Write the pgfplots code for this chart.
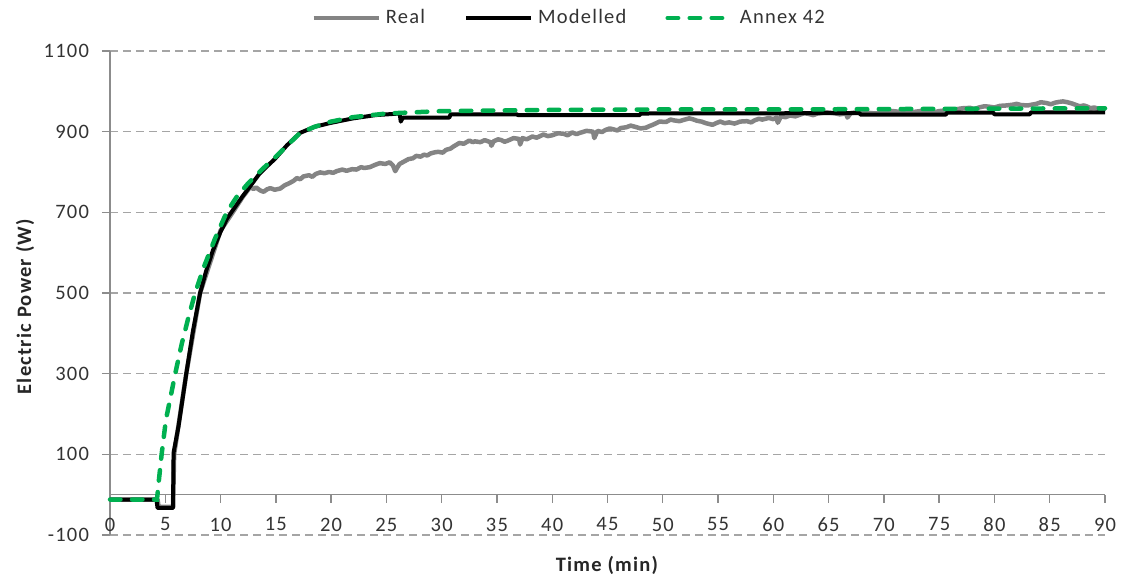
\documentclass[border=0pt]{standalone}
\usepackage{fontspec}
\setmainfont{Carlito}[LetterSpace=6]
\usepackage{pgfplots}
\pgfplotsset{compat=1.18}
\definecolor{realgray}{RGB}{132,132,132}
\definecolor{annexgreen}{RGB}{0,176,80}
\definecolor{gridgray}{RGB}{165,165,165}
\definecolor{axisgray}{RGB}{140,140,140}
\begin{document}
\begin{tikzpicture}
\fontsize{20.5}{24}\selectfont
\begin{axis}[
  scale only axis, width=995pt, height=484pt,
  xmin=0, xmax=90, ymin=-100, ymax=1100,
  axis y line=left, axis x line=middle,
  hide obscured x ticks=false, hide obscured y ticks=false,
  axis line style={axisgray, line width=1.4pt, -},
  tick align=outside, major tick length=8pt,
  tick style={axisgray, line width=1.4pt},
  xtick={0,5,...,90},
  xticklabels={0,5,10,15,20,25,30,35,40,45,50,55,60,65,70,75,80,85,90},
  ytick={-100,100,300,500,700,900,1100},
  yticklabels={-100,100,300,500,700,900,1100},
  ymajorgrids, major grid style={gridgray, line width=1.3pt, dash pattern=on 8pt off 5pt},
  ticklabel style={font=\fontsize{20.5}{24}\selectfont, text=black!80},
  xticklabel style={yshift=-8pt},
  yticklabel style={xshift=-6pt},
  xlabel={\textbf{Time (min)}},
  ylabel={\textbf{Electric Power (W)}},
  label style={font=\fontsize{20.5}{24}\selectfont, text=black!85},
  xlabel style={at={(axis description cs:0.5,0)}, anchor=center, yshift=-30pt},
  ylabel style={at={(axis description cs:-0.0854,0.473)}, anchor=center},
  legend columns=3,
  legend style={draw=none, fill=none, at={(axis description cs:0.463,1)}, anchor=center, yshift=33pt,
    font=\fontsize{20.5}{24}\selectfont, text=black!80,
    nodes={inner xsep=5pt},
    /tikz/every even column/.append style={column sep=34pt}},
  legend image code/.code={\draw[#1] (0pt,0pt) -- (65pt,0pt);},
  clip=false,
]
\addplot[realgray, line width=4.5pt, line join=round] coordinates {
(0,-12) (4.3,-12) (4.4,-30) (5.7,-30) (5.8,100) (6.9,300) (8.15,500) (10,655) (11.1,700) (12.0,738) (12.66,762)
(13.0,758) (13.2,762) (13.6,754) (13.9,751) (14.2,757) (14.5,760) (14.9,756) (15.4,759) (15.8,767) (16.2,772)
(16.6,778) (16.9,785) (17.2,782) (17.5,789) (18,792) (18.3,788) (18.6,795) (19,799) (19.4,797) (19.8,800)
(20.2,798) (20.5,802) (21.0,806) (21.4,803) (21.9,807) (22.3,806) (22.7,812) (23,810) (23.5,812) (24.0,818)
(24.4,822) (24.9,820) (25.3,824) (25.6,816) (25.8,802) (26.0,812) (26.2,820) (26.6,826) (27,832) (27.4,834)
(27.7,840) (28.1,838) (28.4,843) (28.7,841) (29,846) (29.4,849) (29.7,850) (30.1,848) (30.4,855) (30.8,858)
(31.0,862) (31.3,867) (31.6,872) (32.0,870) (32.5,878) (32.8,874) (33.0,876) (33.5,874) (33.9,879) (34.2,876)
(34.4,874) (34.5,865) (34.7,876) (35.1,881) (35.4,879) (35.7,875) (36,878) (36.5,884) (37,882) (37.1,868)
(37.3,884) (37.7,881) (38.2,888) (38.6,885) (39.2,893) (39.6,889) (40,891) (40.5,896) (41,895) (41.4,891)
(41.8,898) (42.2,894) (42.5,897) (43.1,902) (43.7,900) (43.8,884) (44.1,902) (44.5,899) (44.8,904) (45.2,908)
(45.5,906) (45.9,903) (46.2,909) (46.7,911) (47.1,915) (47.5,912) (48.0,908) (48.5,910) (48.8,914) (49.1,917)
(49.4,921) (49.7,925) (50.3,924) (50.7,930) (51,928) (51.5,926) (52,930) (52.4,933) (52.7,931) (53.1,927)
(53.5,925) (53.9,921) (54.5,917) (54.9,922) (55.2,925) (55.6,921) (56,923) (56.5,920) (57.0,925) (57.6,926)
(58.0,923) (58.3,928) (58.7,932) (59,930) (59.6,934) (60.0,931) (60.3,935) (60.4,922) (60.7,938) (61.1,936)
(61.5,940) (62.0,938) (62.4,942) (62.8,946) (63.2,944) (63.6,941) (64,945) (64.8,948) (65.5,946) (66.0,943)
(66.6,945) (66.7,935) (67,946) (67.8,949) (68.5,947) (69.2,945) (70,948) (70.8,951) (71.5,949) (72.2,947)
(73,950) (73.5,952) (74,950) (74.5,948) (75,951) (75.7,953) (76.4,955) (77.1,958) (77.8,959) (78.2,956)
(78.6,960) (79.1,963) (79.5,962) (80.0,960) (80.5,964) (81.1,965) (81.7,967) (82.0,969) (82.4,966) (83,965)
(83.4,967) (83.8,969) (84.2,973) (84.7,971) (85.1,968) (85.5,972) (85.9,974) (86.2,975) (86.6,973) (87,970)
(87.4,966) (87.7,963) (88.1,965) (88.4,962) (88.7,958) (89,960) (89.4,957) (89.8,955) (90,957)
};
\addlegendentry{Real}
\addplot[black, line width=4pt, line join=round] coordinates {
(0,-12) (4.2,-12) (4.3,-33) (5.7,-33) (5.75,104) (6.2,170) (6.9,300) (7.5,405) (8.15,500) (8.7,555) (9.3,605)
(10,652) (10.6,685) (11.1,705) (12,740) (12.66,764) (13.5,795) (14.2,814) (14.9,832) (16,866) (17.2,897)
(18.5,912) (20,922) (22,933) (24,941) (26.2,945) (26.3,925) (26.5,935) (30.7,935) (30.8,943) (36.8,943)
(36.9,941) (47.9,941) (48,945) (67.8,946) (67.9,942) (75.6,942) (75.7,947) (79.9,947) (80,943) (83.2,943)
(83.3,948) (90,948)
};
\addlegendentry{Modelled}
\addplot[annexgreen, line width=4.5pt, line cap=round, dash pattern=on 10.5pt off 11.5pt] coordinates {
(0,-12) (4.25,-12) (4.4,30) (4.67,100) (5.06,186) (5.5,245) (5.9,300) (6.5,375) (7.1,440) (7.7,500) (8.5,565)
(9.5,635) (10.55,700) (11.5,740) (12.5,772) (13.7,805) (15,838) (16,865) (17.2,897) (18.5,912) (20,925) (22,936)
(25,945) (30,951) (40,954) (50,955) (60,955) (70,956) (80,957) (90,958)
};
\addlegendentry{Annex 42}
\coordinate (bl) at (rel axis cs:0,0);
\coordinate (tr) at (rel axis cs:1,1);
\end{axis}
\path (bl) +(-110pt,-41pt) coordinate (A);
\path (tr) +(18pt,51pt) coordinate (B);
\pgfresetboundingbox
\path[use as bounding box] (A) rectangle (B);
\end{tikzpicture}
\end{document}
